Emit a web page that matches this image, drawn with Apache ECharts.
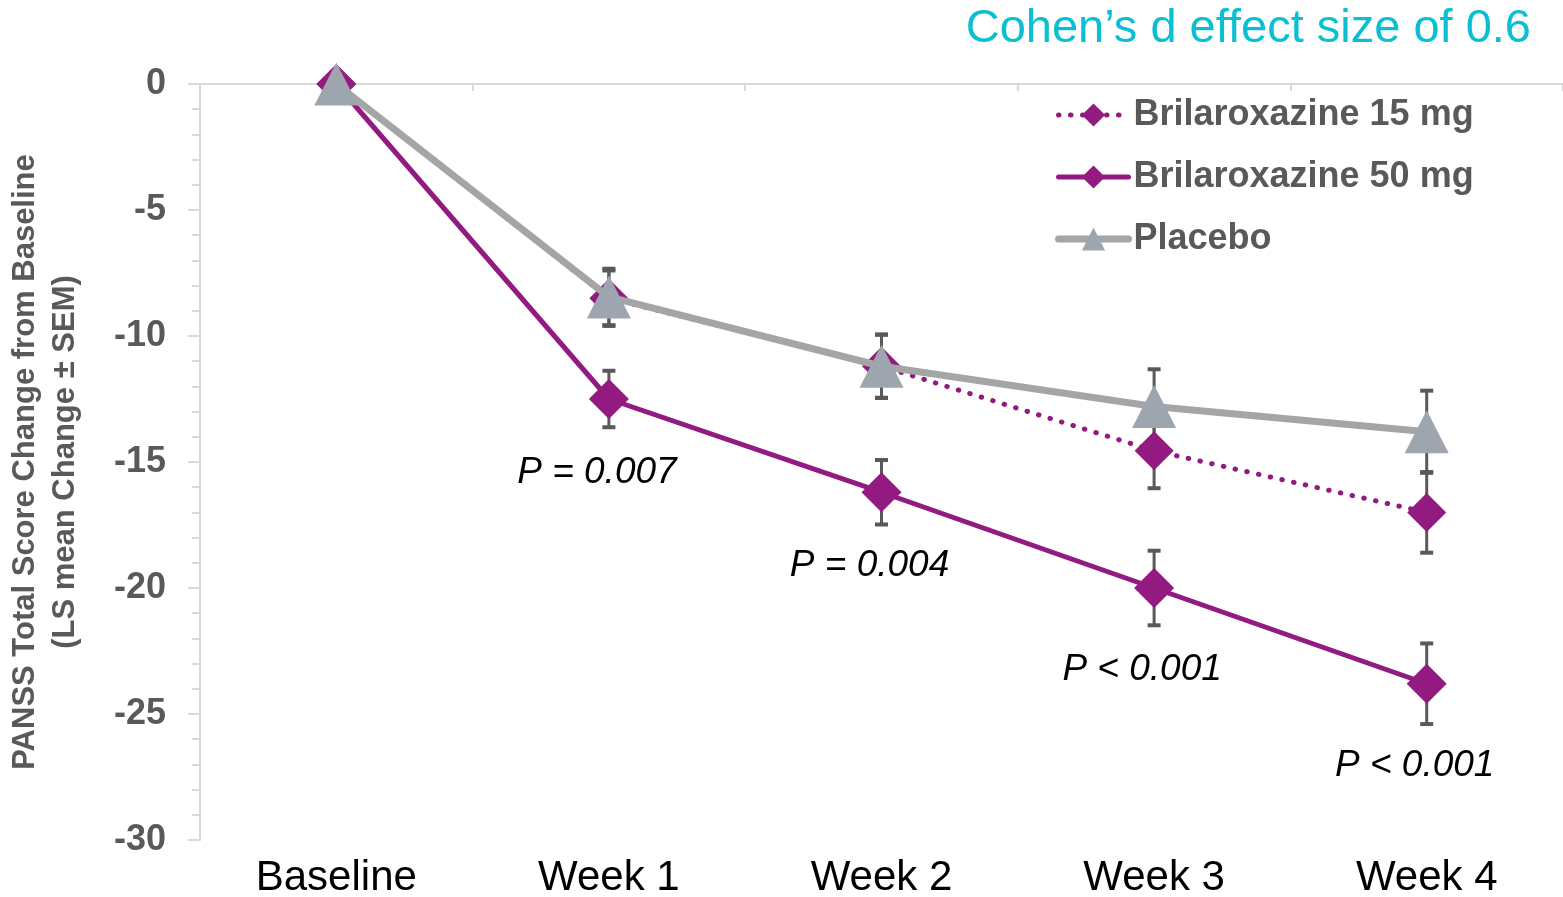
<!DOCTYPE html>
<html>
<head>
<meta charset="utf-8">
<script src="https://cdn.jsdelivr.net/npm/echarts@6/dist/echarts.min.js"></script>
<style>
  html, body { margin: 0; padding: 0; background: #fff; }
  #chart { width: 1563px; height: 897px; }
</style>
</head>
<body>
<div id="chart"></div>
<script>
// PANSS total score change from baseline (LS mean ± SEM)
const categories = ['Baseline', 'Week 1', 'Week 2', 'Week 3', 'Week 4'];

const dose15 = [0, -8.5, -11.2, -14.55, -17.0];
const dose15Sem = [0, 1.1, 1.25, 1.49, 1.6];

const dose50 = [0, -12.5, -16.2, -20.0, -23.8];
const dose50Sem = [0, 1.12, 1.28, 1.48, 1.6];

const placebo = [0, -8.45, -11.2, -12.8, -13.8];
const placeboSem = [0, 1.12, 1.26, 1.48, 1.63];

const pValueLabels = ['', 'P = 0.007', 'P = 0.004', 'P < 0.001', 'P < 0.001'];

const seriesNames = ['Brilaroxazine 15 mg', 'Brilaroxazine 50 mg', 'Placebo'];

const FONT = "'Liberation Sans', Arial, sans-serif";
const PURPLE = '#931A80';
const GREY_LINE = '#A5A5A5';
const GREY_MARK = '#9DA5AF';
const BAR_COLOR = '#595959';

// SEM whiskers with flat caps
function errorBarSeries(values, sems) {
  const data = [];
  values.forEach((v, i) => { if (sems[i] > 0) data.push([i, v, sems[i]]); });
  return {
    type: 'custom',
    z: 1,
    silent: true,
    renderItem(params, api) {
      const i = api.value(0), v = api.value(1), e = api.value(2);
      const hi = api.coord([i, v + e]);
      const lo = api.coord([i, v - e]);
      const hw = 6.5;
      const style = { stroke: BAR_COLOR, lineWidth: 3 };
      const cap = { stroke: BAR_COLOR, lineWidth: 4 };
      return {
        type: 'group',
        children: [
          { type: 'line', shape: { x1: hi[0], y1: hi[1], x2: lo[0], y2: lo[1] }, style },
          { type: 'line', shape: { x1: hi[0] - hw, y1: hi[1], x2: hi[0] + hw, y2: hi[1] }, style: cap },
          { type: 'line', shape: { x1: lo[0] - hw, y1: lo[1], x2: lo[0] + hw, y2: lo[1] }, style: cap }
        ]
      };
    },
    data
  };
}

// P-value annotations sit under the 50 mg points; later weeks drop a little lower
const dose50Data = dose50.map((v, i) => ({
  value: v,
  label: pValueLabels[i]
    ? { show: true, formatter: pValueLabels[i], offset: [-12, i >= 3 ? 8 : 0] }
    : { show: false }
}));

const chart = echarts.init(document.getElementById('chart'), null, { renderer: 'canvas' });

chart.setOption({
  animation: false,
  backgroundColor: '#ffffff',
  textStyle: { fontFamily: FONT },
  title: {
    text: 'Cohen\u2019s d effect size of 0.6',
    right: 27,
    top: 1,
    textStyle: { fontFamily: FONT, fontSize: 47, fontWeight: 'normal', color: '#0ABFD1' }
  },
  legend: {
    orient: 'vertical',
    left: 1050,
    top: 90,
    itemWidth: 70,
    itemHeight: 29,
    itemGap: 22,
    data: seriesNames,
    lineStyle: { width: 'inherit', type: 'inherit', cap: 'round' },
    textStyle: { fontFamily: FONT, fontSize: 36, fontWeight: 'bold', color: '#595959', lineHeight: 40 }
  },
  grid: { left: 200, right: 0, top: 84, bottom: 57, containLabel: false, outerBoundsMode: 'none' },
  xAxis: [
    {
      type: 'category',
      data: categories,
      position: 'top',
      boundaryGap: true,
      axisLine: { lineStyle: { color: '#D9D9D9', width: 2 } },
      axisTick: { show: true, inside: true, length: 7, lineStyle: { color: '#D9D9D9', width: 2 } },
      axisLabel: { show: false },
      splitLine: { show: false }
    },
    {
      type: 'category',
      data: categories,
      position: 'bottom',
      boundaryGap: true,
      axisLine: { show: false },
      axisTick: { show: false },
      axisLabel: { fontFamily: FONT, fontSize: 42, color: '#000000', margin: 17 },
      splitLine: { show: false }
    }
  ],
  yAxis: {
    type: 'value',
    min: -30,
    max: 0,
    interval: 5,
    name: 'PANSS Total Score Change from Baseline\n(LS mean Change \u00B1 SEM)',
    nameLocation: 'middle',
    nameRotate: 90,
    nameGap: 115,
    nameTextStyle: { fontFamily: FONT, fontSize: 31, fontWeight: 'bold', color: '#595959', lineHeight: 40, align: 'center' },
    axisLine: { show: true, lineStyle: { color: '#D9D9D9', width: 2 } },
    axisTick: { show: true, length: 12, lineStyle: { color: '#D9D9D9', width: 2 } },
    minorTick: { show: true, splitNumber: 5, length: 8, lineStyle: { color: '#D9D9D9', width: 2 } },
    axisLabel: { fontFamily: FONT, fontSize: 36, fontWeight: 'bold', color: '#595959', margin: 34 },
    splitLine: { show: false }
  },
  series: [
    errorBarSeries(dose15, dose15Sem),
    errorBarSeries(dose50, dose50Sem),
    errorBarSeries(placebo, placeboSem),
    {
      name: seriesNames[0],
      type: 'line',
      z: 3,
      data: dose15,
      symbol: 'diamond',
      symbolSize: 39,
      itemStyle: { color: PURPLE },
      lineStyle: { color: PURPLE, width: 5, type: [0.5, 11.5], cap: 'round' }
    },
    {
      name: seriesNames[1],
      type: 'line',
      z: 4,
      data: dose50Data,
      symbol: 'diamond',
      symbolSize: 40,
      itemStyle: { color: PURPLE },
      lineStyle: { color: PURPLE, width: 5 },
      label: {
        position: 'bottom',
        distance: 35,
        fontFamily: FONT,
        fontSize: 37,
        fontStyle: 'italic',
        color: '#000000'
      }
    },
    {
      name: seriesNames[2],
      type: 'line',
      z: 5,
      data: placebo,
      symbol: 'triangle',
      symbolSize: [44, 43],
      itemStyle: { color: GREY_MARK },
      lineStyle: { color: GREY_LINE, width: 7 }
    }
  ]
});
</script>
</body>
</html>
